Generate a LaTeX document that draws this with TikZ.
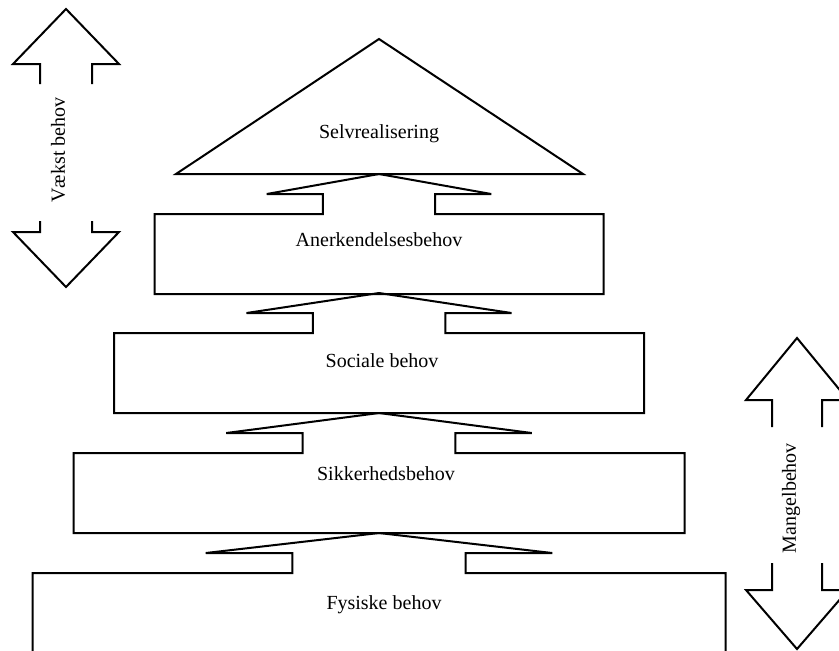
\documentclass[tikz,border=0pt]{standalone}
\usepackage{fontspec}
\setmainfont{Liberation Serif}
\usetikzlibrary{positioning}
\tikzset{label/.style = {font=\fontsize{10}{12}\selectfont, inner sep=0}}

\begin{document}
\begin{tikzpicture}[x=0.5pt, y=-0.5pt, line width=1pt, line join=miter]
      \clip (0,0) rectangle (839,650);
      % top triangle
      \draw (176,174) -- (379,39) -- (583,174) -- cycle;
      \node[label] (selv) at (379,134) {Selvrealisering};
      % boxes with an arrow on top
      \foreach \t/\w in {214/224.5, 333/265, 453/305.5, 573/346.5} {
        \draw (379-\w,\t+80) -- (379-\w,\t) -- (379-\w/4,\t) -- (379-\w/4,\t-20)
          -- (379-\w/2,\t-20) -- (379,\t-40) -- (379+\w/2,\t-20) -- (379+\w/4,\t-20)
          -- (379+\w/4,\t) -- (379+\w,\t) -- (379+\w,\t+80) -- cycle;
      }
      \node[label] (anerk) at (379,240) {Anerkendelsesbehov};
      \node[label] (social) at (382,361) {Sociale behov};
      \node[label] (sikker) at (386,474) {Sikkerhedsbehov};
      \node[label] (fysisk) at (384,605) {Fysiske behov};
      % left double arrow
      \draw (40,84) -- (40,64) -- (13,64) -- (66,9) -- (119,64) -- (92,64) -- (92,84);
      \draw (40,221) -- (40,232) -- (13,232) -- (66,287) -- (119,232) -- (92,232) -- (92,221);
      \node[label, rotate=90] (vaekst) at (58,150) {Vækst behov};
      % right double arrow
      \draw (772,427) -- (772,400) -- (746,400) -- (797,338) -- (848,400) -- (822,400) -- (822,427);
      \draw (772,563) -- (772,590) -- (746,590) -- (797,649) -- (848,590) -- (822,590) -- (822,563);
      \node[label, rotate=90] (mangel) at (791,498) {Mangelbehov};
    \end{tikzpicture}
\end{document}
